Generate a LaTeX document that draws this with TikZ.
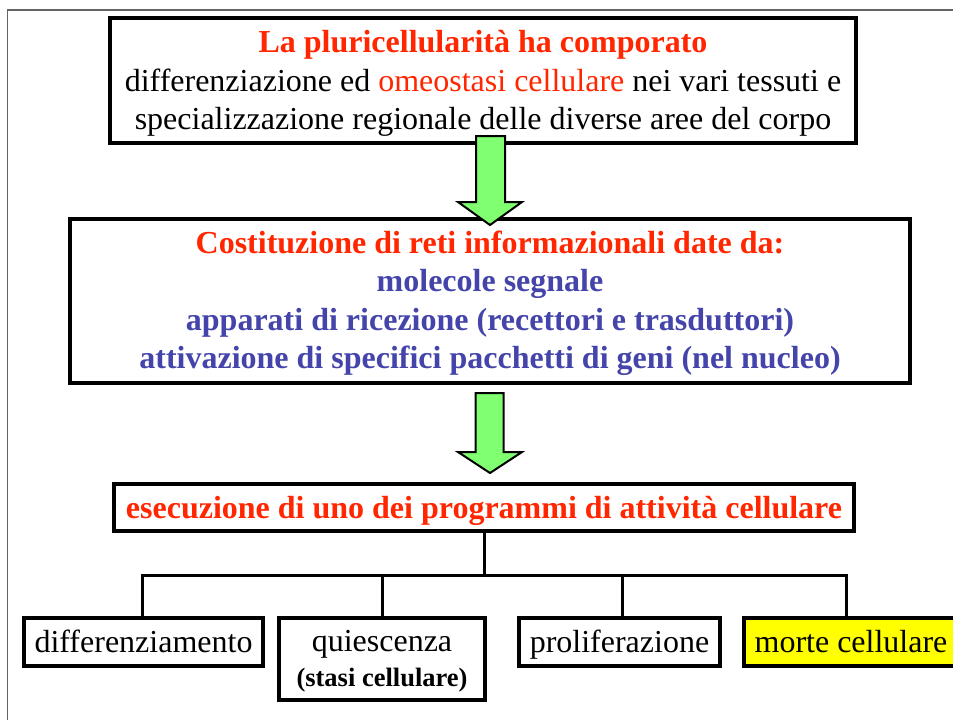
\documentclass[tikz,border=0pt]{standalone}
\usepackage{fontspec}
\setmainfont{Liberation Serif}
\definecolor{kred}{RGB}{255,38,0}
\definecolor{kblue}{RGB}{68,68,170}
\definecolor{kgreen}{RGB}{128,255,112}
\definecolor{kyellow}{RGB}{255,255,0}
\definecolor{kframe}{RGB}{100,100,100}
\tikzset{
  frame/.style={draw=black, line width=4pt, fill=white, inner sep=0pt},
  txt/.style={inner sep=0pt, align=center, font=\fontsize{32}{38.5}\selectfont},
  smallbox/.style={frame, align=center,
    minimum height=48pt, text height=25pt, text depth=4pt,
    font=\fontsize{32}{38.5}\selectfont},
  link/.style={draw=black, line width=3pt},
  blockarrow/.style={draw=black, line width=2pt, fill=kgreen, line join=miter}
}
\begin{document}
\begin{tikzpicture}[x=1pt, y=-1pt]
\useasboundingbox (0,0) rectangle (953,720);
\clip (0,0) rectangle (953,720);
\fill[white] (0,0) rectangle (953,720);
\draw[kframe, line width=1.5pt] (7.5,10) rectangle (980,740);

\node[frame, minimum width=746pt, minimum height=125pt] (b1) at (483,80.5) {};
\node[txt, yshift=-3pt] (b1t) at (b1.center)
  {\textbf{\color{kred}La pluricellularità ha comporato}\\
   differenziazione ed {\color{kred}omeostasi cellulare} nei vari tessuti e\\
   specializzazione regionale delle diverse aree del corpo};

\node[frame, minimum width=840pt, minimum height=164pt] (b2) at (490,301) {};
\node[txt, yshift=-2.5pt, font=\fontsize{32}{38.5}\selectfont\bfseries] (b2t) at (b2.center)
  {{\color{kred}Costituzione di reti informazionali date da:}\\
   {\color{kblue}molecole segnale}\\
   {\color{kblue}apparati di ricezione (recettori e trasduttori)}\\
   {\color{kblue}attivazione di specifici pacchetti di geni (nel nucleo)}};

\node[smallbox, minimum width=740pt, minimum height=47pt,
      font=\fontsize{32}{38.5}\selectfont\bfseries] (b3) at (484,507.5)
  {\color{kred}esecuzione di uno dei programmi di attività cellulare};

\node[smallbox, minimum width=239pt] (d1) at (143.5,642) {differenziamento};
\node[frame, minimum width=206pt, minimum height=82pt] (d2) at (382,659) {};
\node[txt, yshift=-2pt] (d2t) at (d2.center)
  {quiescenza\\[-3pt]{\bfseries\fontsize{26.5}{32}\selectfont(stasi cellulare)}};
\node[smallbox, minimum width=201pt] (d3) at (619.5,642) {proliferazione};
\node[smallbox, minimum width=214pt, fill=kyellow] (d4) at (851,642) {morte cellulare};

% tree connectors
\coordinate (busL) at (142,575);
\coordinate (busR) at (846,575);
\draw[link] (b3.south) -- (b3.south |- busL);
\draw[link, line cap=rect] (busL) -- (busR);
\draw[link] (busL) -- (busL |- d1.north);
\draw[link] (d2.north |- busL) -- (d2.north);
\draw[link] (622,575) -- (622,618);
\draw[link] (busR) -- (busR |- d4.north);

% block arrows
\draw[blockarrow] (476,136) -- (505,136) -- (505,202) -- (522,202) -- (490,225)
  -- (458,202) -- (476,202) -- cycle;
\draw[blockarrow] (475.5,393) -- (503.5,393) -- (503.5,452) -- (522,452) -- (490,473)
  -- (458,452) -- (475.5,452) -- cycle;
\end{tikzpicture}
\end{document}
